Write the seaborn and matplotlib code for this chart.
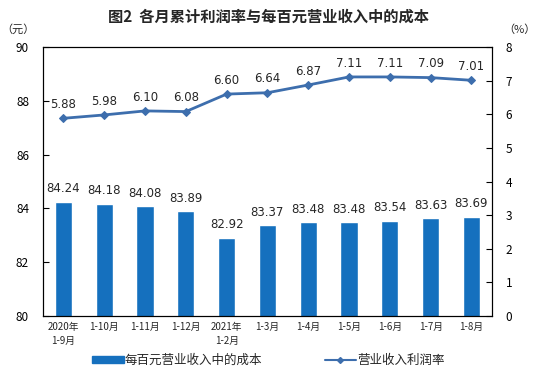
import numpy as np
import pandas as pd
import matplotlib
matplotlib.use("Agg")
import matplotlib.pyplot as plt
import seaborn as sns
from matplotlib.lines import Line2D
from matplotlib.patches import Patch

categories = ["2020年\n1-9月", "1-10月", "1-11月", "1-12月", "2021年\n1-2月",
              "1-3月", "1-4月", "1-5月", "1-6月", "1-7月", "1-8月"]
cost_per_100 = [84.24, 84.18, 84.08, 83.89, 82.92, 83.37, 83.48, 83.48, 83.54, 83.63, 83.69]
profit_rate = [5.88, 5.98, 6.10, 6.08, 6.60, 6.64, 6.87, 7.11, 7.11, 7.09, 7.01]

title = "图2  各月累计利润率与每百元营业收入中的成本"
bar_label = "每百元营业收入中的成本"
line_label = "营业收入利润率"

sns.set_theme(style="white")
plt.rcParams['font.family'] = ['Noto Sans CJK SC', 'DejaVu Sans']

bar_color = "#1570be"
line_color = "#3d6ead"

df = pd.DataFrame({"cat": categories, "cost": cost_per_100, "rate": profit_rate,
                   "idx": np.arange(len(categories))})

fig = plt.figure(figsize=(5.37, 3.79), dpi=100)
ax = fig.add_axes([0.080, 0.166, 0.836, 0.710])

sns.barplot(data=df, x="cat", y="cost", color=bar_color, width=0.42,
            saturation=1, ax=ax)
ax.set_ylim(80, 90)
ax.set_yticks(np.arange(80, 91, 2))
ax.set_xlim(-0.5, len(categories) - 0.5)
ax.set_xlabel("")
ax.set_ylabel("")
for i, v in enumerate(cost_per_100):
    ax.text(i, v + 0.25, f"{v:.2f}", ha="center", va="bottom", fontsize=8.5,
            family=['DejaVu Sans'])

ax2 = ax.twinx()
sns.lineplot(data=df, x="idx", y="rate", color=line_color, marker="D",
             markersize=4.5, markeredgecolor=line_color, linewidth=2, ax=ax2, sort=False)
ax2.set_ylim(0, 8)
ax2.set_yticks(np.arange(0, 9, 1))
ax2.set_xlim(-0.5, len(categories) - 0.5)
ax2.set_xlabel("")
ax2.set_ylabel("")
for i, v in enumerate(profit_rate):
    ax2.text(i, v + 0.22, f"{v:.2f}", ha="center", va="bottom", fontsize=8.5,
             family=['DejaVu Sans'])

for a in (ax, ax2):
    for s in a.spines.values():
        s.set_color("black")
        s.set_linewidth(0.8)
ax.tick_params(axis="y", direction="in", length=4, width=0.8, labelsize=8.5, pad=10, colors="black")
ax2.tick_params(axis="y", direction="in", length=4, width=0.8, labelsize=8.5, pad=10, colors="black")
ax.set_xticks(np.arange(len(categories)))
ax.set_xticklabels(categories, fontsize=7, linespacing=1.5)
ax.tick_params(axis="x", length=0, pad=4)
ax.set_xticks(np.arange(len(categories) + 1) - 0.5, minor=True)
ax.tick_params(axis="x", which="minor", direction="in", length=3, width=0.8, color="black")
ax.grid(False)
ax2.grid(False)

fig.text(0.5, 0.957, title, ha="center", va="center", fontsize=11, fontweight="bold")
fig.text(0.003, 0.922, "（元）", ha="left", va="center", fontsize=8)
fig.text(0.997, 0.922, "（%）", ha="right", va="center", fontsize=8)

handles = [Patch(facecolor=bar_color, edgecolor=bar_color),
           Line2D([0], [0], color=line_color, marker="D", markersize=3, linewidth=1.5)]
fig.legend(handles, [bar_label, line_label], loc="center", bbox_to_anchor=(0.5, 0.048),
           ncol=2, frameon=False, fontsize=9, handlelength=2.5, handleheight=0.5,
           columnspacing=5, handletextpad=0.1)

fig.savefig("out.png", dpi=100)
